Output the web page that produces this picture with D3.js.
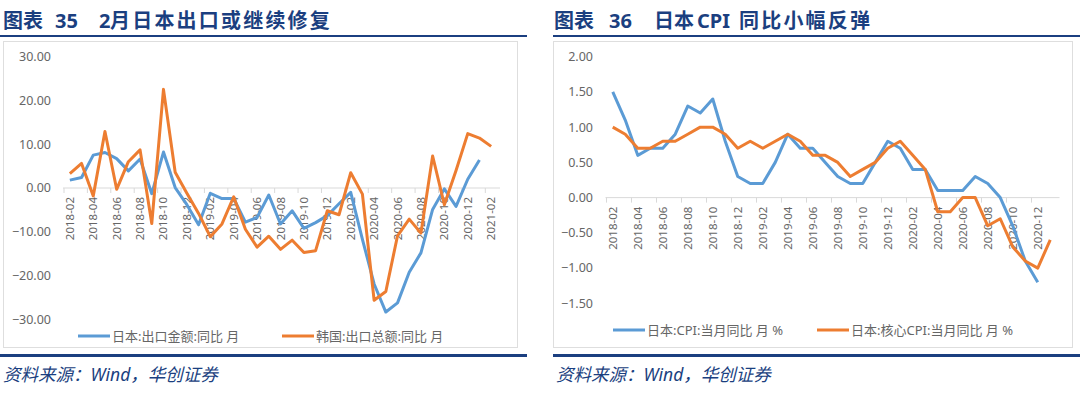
<!DOCTYPE html>
<html>
<head>
<meta charset="utf-8">
<script src="https://cdn.jsdelivr.net/npm/d3@7"></script>
<style>
  body { margin: 0; background: #fff; }
  text { font-family: "Noto Sans", "Noto Sans CJK SC", sans-serif; }
</style>
</head>
<body>
<svg id="chart" width="1080" height="398"></svg>
<script>
// left chart: exports yoy, 2018-02 .. 2021-02
const exportMonths = ["2018-02","2018-03","2018-04","2018-05","2018-06","2018-07","2018-08","2018-09","2018-10","2018-11","2018-12",
  "2019-01","2019-02","2019-03","2019-04","2019-05","2019-06","2019-07","2019-08","2019-09","2019-10","2019-11","2019-12",
  "2020-01","2020-02","2020-03","2020-04","2020-05","2020-06","2020-07","2020-08","2020-09","2020-10","2020-11","2020-12",
  "2021-01","2021-02"];
const japanExport = [1.8, 2.4, 7.5, 8.1, 6.7, 3.9, 6.6, -1.3, 8.2, 0.1, -3.8, -8.4, -1.2, -2.4, -2.4, -7.8, -6.7, -1.6,
  -8.2, -5.2, -9.2, -7.9, -6.3, -3.6, -1.0, -11.7, -21.9, -28.3, -26.2, -19.2, -14.8, -4.9, -0.2, -4.2, 2.0, 6.4];
const koreaExport = [3.3, 5.6, -1.8, 12.9, -0.3, 6.0, 8.7, -8.1, 22.5, 3.6, -1.2, -5.8, -11.1, -8.2, -2.0, -9.4, -13.5, -11.0,
  -14.0, -11.9, -14.7, -14.3, -5.2, -6.1, 3.5, -1.4, -25.6, -23.6, -10.9, -7.1, -10.3, 7.3, -3.8, 4.0, 12.4, 11.4, 9.5];
const exportTicks = [30, 20, 10, 0, -10, -20, -30];

// right chart: CPI yoy, 2018-02 .. 2021-01
const cpiMonths = exportMonths.slice(0, 36);
const japanCpi = [1.5, 1.1, 0.6, 0.7, 0.7, 0.9, 1.3, 1.2, 1.4, 0.8, 0.3, 0.2, 0.2, 0.5, 0.9, 0.7, 0.7, 0.5,
  0.3, 0.2, 0.2, 0.5, 0.8, 0.7, 0.4, 0.4, 0.1, 0.1, 0.1, 0.3, 0.2, 0.0, -0.4, -0.9, -1.2];
const japanCoreCpi = [1.0, 0.9, 0.7, 0.7, 0.8, 0.8, 0.9, 1.0, 1.0, 0.9, 0.7, 0.8, 0.7, 0.8, 0.9, 0.8, 0.6, 0.6,
  0.5, 0.3, 0.4, 0.5, 0.7, 0.8, 0.6, 0.4, -0.2, -0.2, 0.0, 0.0, -0.4, -0.3, -0.7, -0.9, -1.0, -0.6];
const cpiTicks = [2, 1.5, 1, 0.5, 0, -0.5, -1, -1.5];

const blue = "#5b9bd5";
const orange = "#ed7d31";
const navy = "#1b3f80";

const svg = d3.select("#chart");

function panel(opt) {
  const g = svg.append("g");

  // frame around the plot
  g.append("rect")
    .attr("x", opt.box[0] + 0.5).attr("y", 41.5)
    .attr("width", opt.box[1] - opt.box[0]).attr("height", 306)
    .attr("fill", "#fff").attr("stroke", "#dedede");

  const x = d3.scaleBand().domain(opt.months).range(opt.xr);
  const y = d3.scaleLinear().domain(opt.ydom).range(opt.yr);
  const y0 = y(0);

  // y labels
  g.selectAll(".yl").data(opt.ticks).enter().append("text")
    .attr("x", opt.ylx).attr("y", function(d) { return y(d); })
    .attr("dy", "0.35em").attr("text-anchor", "end")
    .attr("font-size", 12.5).attr("fill", "#666")
    .text(function(d) { return d3.format(".2f")(d); });

  // category axis along zero
  g.append("line")
    .attr("x1", opt.xr[0] - 1).attr("x2", opt.xr[1] + 3)
    .attr("y1", y0).attr("y2", y0)
    .attr("stroke", "#d9d9d9");
  const every2 = opt.months.filter(function(d, i) { return i % 2 === 0; });
  g.selectAll(".tk").data(every2).enter().append("line")
    .attr("x1", function(d) { return x(d); }).attr("x2", function(d) { return x(d); })
    .attr("y1", y0).attr("y2", y0 + 5)
    .attr("stroke", "#d9d9d9");
  g.selectAll(".xl").data(every2).enter().append("text")
    .attr("transform", function(d) { return "translate(" + (x(d) + x.bandwidth() / 2 + 4) + "," + (y0 + 9) + ") rotate(-90)"; })
    .attr("text-anchor", "end")
    .attr("font-size", 11.5).attr("fill", "#666")
    .text(function(d) { return d; });

  const line = d3.line()
    .x(function(d, i) { return x(opt.months[i]) + x.bandwidth() / 2; })
    .y(function(d) { return y(d); });

  opt.series.forEach(function(s) {
    g.append("path")
      .attr("d", line(s.values))
      .attr("fill", "none").attr("stroke", s.color)
      .attr("stroke-width", 3).attr("stroke-linejoin", "round");
  });

  // legend
  opt.series.forEach(function(s) {
    g.append("line")
      .attr("x1", s.lx).attr("x2", s.lx + 32)
      .attr("y1", opt.ly).attr("y2", opt.ly)
      .attr("stroke", s.color).attr("stroke-width", 3);
    g.append("text")
      .attr("x", s.lx + 34).attr("y", opt.ly).attr("dy", "0.35em")
      .attr("font-size", 13).attr("fill", "#666")
      .attr("font-family", "'Noto Sans CJK SC', sans-serif")
      .text(s.name);
  });

  // title
  const t = g.append("text")
    .attr("y", 28).attr("fill", navy).attr("font-weight", "bold")
    .attr("font-size", 20)
    .attr("font-family", "'Liberation Serif', 'Noto Sans CJK SC', serif");
  opt.title.forEach(function(p) {
    t.append("tspan").attr("x", p[0]).attr("letter-spacing", p[2] || 0).text(p[1]);
  });

  g.append("line")
    .attr("x1", opt.rule[0]).attr("x2", opt.rule[1])
    .attr("y1", 36).attr("y2", 36)
    .attr("stroke", navy).attr("stroke-width", 2);
  g.append("line")
    .attr("x1", opt.rule[0]).attr("x2", opt.rule[1])
    .attr("y1", 355.5).attr("y2", 355.5)
    .attr("stroke", navy).attr("stroke-width", 3);

  g.append("text")
    .attr("x", opt.rule[0] + 3).attr("y", 381)
    .attr("font-size", 17.5).attr("font-style", "italic").attr("fill", navy)
    .attr("font-family", "'Liberation Serif', 'Noto Sans CJK SC', serif")
    .text("资料来源：Wind，华创证券");
}

panel({
  box: [3, 517], rule: [0, 527],
  months: exportMonths, xr: [64, 497],
  ydom: [-30, 30], yr: [319.5, 56.5], ticks: exportTicks, ylx: 51,
  ly: 336,
  title: [[3, "图表", 0], [55, "35", 0], [99, "2", 0], [110, "月日本出口或继续修复", 2.2]],
  series: [
    { name: "日本:出口金额:同比 月", values: japanExport, color: blue, lx: 78 },
    { name: "韩国:出口总额:同比 月", values: koreaExport, color: orange, lx: 282 }
  ]
});

panel({
  box: [553, 1072], rule: [553, 1080],
  months: cpiMonths, xr: [606.5, 1056.5],
  ydom: [-1.5, 2], yr: [303.3, 56.7], ticks: cpiTicks, ylx: 593,
  ly: 330,
  title: [[554, "图表", 0], [609, "36", 0], [654, "日本", 0], [697, "CPI", 0], [739, "同比小幅反弹", 2.2]],
  series: [
    { name: "日本:CPI:当月同比 月 %", values: japanCpi, color: blue, lx: 613 },
    { name: "日本:核心CPI:当月同比 月 %", values: japanCoreCpi, color: orange, lx: 817 }
  ]
});
</script>
</body>
</html>
